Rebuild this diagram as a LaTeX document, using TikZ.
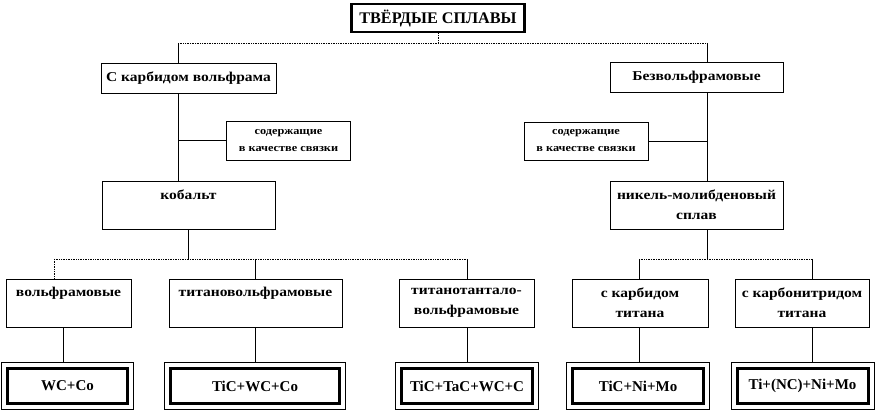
\documentclass[tikz,border=0pt]{standalone}
\usepackage{fontspec}
\setmainfont{Liberation Serif}
\newfontfamily\widefont[FakeStretch=1.15]{Liberation Serif}
\begin{document}
\begin{tikzpicture}[x=1pt,y=-1pt,
    box/.style={draw,line width=0.7pt,inner sep=0pt,align=center,
      font=\widefont\bfseries\fontsize{13.5}{20}\selectfont},
    bindbox/.style={box,font=\widefont\bfseries\fontsize{10.7}{17}\selectfont},
    alloy/.style={draw,line width=3pt,inner sep=0pt,
      font=\bfseries\fontsize{15}{18}\selectfont},
    link/.style={line width=0.7pt},
    bus/.style={link,densely dotted}]
  \useasboundingbox (0,0) rectangle (875,411);
  % top level
  \node [draw,line width=2.5pt,minimum width=173,minimum height=28,
    font=\bfseries\fontsize{16.2}{18}\selectfont] (title) at (438,18) {ТВЁРДЫЕ СПЛАВЫ};
  \node [box,minimum width=175,minimum height=30] (wcarb) at (188.5,78) {С карбидом вольфрама};
  \node [box,minimum width=173,minimum height=30] (nowc) at (696.5,77) {Безвольфрамовые};
  \node [bindbox,minimum width=124,minimum height=39] (bindl) at (288.5,140.5) {содержащие\\в качестве связки};
  \node [bindbox,minimum width=124,minimum height=38] (bindr) at (586,141) {содержащие\\в качестве связки};
  \node [box,minimum width=173,minimum height=48] (cobalt) at (188.5,205) {кобальт\\\mbox{}};
  \node [box,minimum width=173,minimum height=48] (nimo) at (696.5,205) {никель-молибденовый\\сплав};
  % groups
  \node [box,minimum width=125,minimum height=48] (wgrp) at (68.5,303) {вольфрамовые\\[3pt]\mbox{}};
  \node [box,minimum width=173,minimum height=48] (tiwgrp) at (255.5,303) {титановольфрамовые\\[3pt]\mbox{}};
  \node [box,minimum width=135,minimum height=48] (titagrp) at (466.5,303) {титанотантало-\\вольфрамовые};
  \node [box,minimum width=136,minimum height=48] (ticgrp) at (640,303) {с карбидом\\титана};
  \node [box,minimum width=134,minimum height=48] (ticngrp) at (802,303) {с карбонитридом\\титана};
  % alloys
  \node [alloy,minimum width=120,minimum height=35] (wc) at (67.5,386) {WC+Co};
  \node [alloy,minimum width=169,minimum height=35] (tiwc) at (255,386) {TiC+WC+Co};
  \node [alloy,minimum width=131,minimum height=35] (tita) at (467,386) {TiC+TaC+WC+C};
  \node [alloy,minimum width=131,minimum height=35] (tini) at (638,386) {TiC+Ni+Mo};
  \node [alloy,minimum width=131,minimum height=35] (tincn) at (802.5,386) {Ti+(NC)+Ni+Mo};
  \foreach \a in {wc,tiwc,tita,tini,tincn}{
    \draw [link] ([shift={(-4.5,-4.5)}]\a.north west) rectangle ([shift={(4.5,4.5)}]\a.south east);
  }
  % connectors
  \coordinate (bus top left) at (178,43);
  \coordinate (bus top right) at (707,43);
  \draw [bus] (title.south) -- (title.south |- bus top left);
  \draw [bus] (bus top left) -- (bus top right);
  \draw [link] (bus top left) -- (bus top left |- wcarb.north);
  \draw [link] (bus top right) -- (bus top right |- nowc.north);
  \draw [link] (bus top left |- wcarb.south) -- (bus top left |- cobalt.north);
  \draw [link] (bus top right |- nowc.south) -- (bus top right |- nimo.north);
  \draw [link] (bindl.west) -- (bindl.west -| bus top left);
  \draw [link] (bindr.east) -- (bindr.east -| bus top right);
  \coordinate (bus co left) at (54,259);
  \coordinate (bus co right) at (467,259);
  \coordinate (bus ni left) at (639,259);
  \coordinate (bus ni right) at (812,259);
  \draw [link] (cobalt.south) -- (cobalt.south |- bus co left);
  \draw [link] (bus top right |- nimo.south) -- (bus top right |- bus ni left);
  \draw [bus] (bus co left) -- (bus co right);
  \draw [bus] (bus ni left) -- (bus ni right);
  \draw [bus] (bus co left) -- (bus co left |- wgrp.north);
  \draw [link] (tiwgrp.north |- bus co left) -- (tiwgrp.north);
  \draw [link] (bus co right) -- (bus co right |- titagrp.north);
  \draw [link] (bus ni left) -- (bus ni left |- ticgrp.north);
  \draw [link] (bus ni right) -- (bus ni right |- ticngrp.north);
  \foreach \g/\a/\x in {wgrp/wc/63,tiwgrp/tiwc/255,titagrp/tita/467,ticgrp/tini/639,ticngrp/tincn/812}{
    \draw [link] (\x,0 |- \g.south) -- ([yshift=4.5pt]\x,0 |- \a.north);
  }
\end{tikzpicture}
\end{document}
